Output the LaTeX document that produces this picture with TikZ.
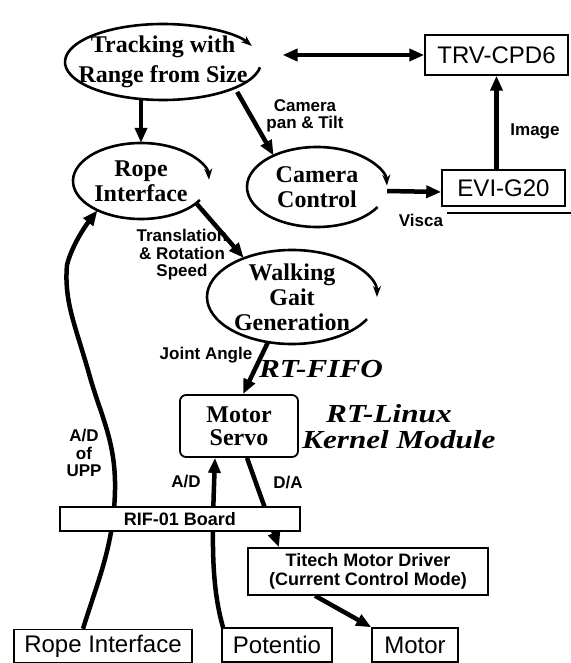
\documentclass[tikz,border=0pt]{standalone}
\usepackage{fontspec}
\setmainfont{Liberation Serif}
\setsansfont{Liberation Sans}
\newfontfamily\rtfont[FakeStretch=1.2]{Liberation Serif}
\usepackage{tikz}
\usetikzlibrary{shapes.geometric, arrows.meta}

\begin{document}
\begin{tikzpicture}[x=1pt, y=-1pt,
  every node/.style={inner sep=0pt},
  proc/.style={ellipse, align=center, font=\fontsize{24}{25}\selectfont\bfseries},
  dev/.style={draw, line width=1.5pt, font=\fontsize{24}{26}\selectfont\sffamily},
  board/.style={draw, line width=1.5pt, fill=white, align=center, font=\fontsize{18}{19}\selectfont\sffamily\bfseries},
  ann/.style={font=\fontsize{17}{17.5}\selectfont\sffamily\bfseries, align=center},
  rt/.style={font=\rtfont\fontsize{26}{26}\selectfont\bfseries\itshape, align=left},
  cyc/.style={line width=2.6pt, -{Stealth[length=11pt, width=8pt]}},
  flow/.style={line width=4.5pt, -{Triangle[length=15pt, width=12pt]}}
]
\useasboundingbox (0,0) rectangle (570,663);

\node[proc, minimum width=196pt, minimum height=76pt, font=\fontsize{24}{30}\selectfont\bfseries] (trk) at (163,62) {Tracking with\\Range from Size};
\node[proc, minimum width=136pt, minimum height=76pt] (rope) at (141,181) {Rope\\Interface};
\node[proc, minimum width=140pt, minimum height=80pt] (cam) at (317,187) {Camera\\Control};
\node[proc, minimum width=170pt, minimum height=94pt] (walk) at (292,297) {Walking\\Gait\\Generation};
\node[draw, rounded corners=6pt, line width=1.8pt, minimum width=118pt, minimum height=62pt, align=center,
      font=\fontsize{24}{23}\selectfont\bfseries] (servo) at (239,426) {Motor\\Servo};

\node[dev, minimum width=143pt, minimum height=40pt] (trv) at (496.5,55) {TRV-CPD6};
\node[dev, minimum width=123pt, minimum height=36pt] (evi) at (503.5,188) {EVI-G20};
\node[dev, minimum width=178pt, minimum height=33pt] (ropebox) at (103,646) {Rope Interface};
\node[dev, minimum width=110pt, minimum height=34pt] (potbox) at (277,645) {Potentio};
\node[dev, minimum width=86pt, minimum height=34pt] (motbox) at (415,645) {Motor};
\node[board, minimum width=240pt, minimum height=47pt] (drv) at (368,571.5) {Titech Motor Driver\\(Current Control Mode)};
\draw[line width=1.5pt] ([shift={(6pt,-6pt)}]evi.south west) -| ([shift={(6pt,-6pt)}]evi.north east);

\foreach \n/\rx/\ry/\a/\b in {trk/98pt/38pt/-8/-335, rope/68pt/38pt/-30/-358,
                              cam/70pt/40pt/-30/-358, walk/85pt/47pt/-28/-360}
  \draw[cyc] (\n.center) ++(\a:{\rx} and {\ry}) arc[start angle=\a, end angle=\b, x radius=\rx, y radius=\ry];

\node[ann] (lpan) at (305,116) {Camera\\pan \& Tilt};
\node[ann] (lvis) at (421,220) {Visca};
\node[ann] (limg) at (535,131) {Image};
\node[ann] (lspd) at (182,255) {Translation\\\& Rotation\\Speed};
\node[ann] (ljnt) at (206,355) {Joint Angle};
\node[ann] (lupp) at (84,453) {A/D\\of\\UPP};
\node[ann] (lad) at (186,482) {A/D};
\node[ann] (lda) at (288,483) {D/A};
\node[rt] (fifo) at (321,369) {RT-FIFO};
\node[rt, anchor=west] (kern) at (302,427) {\hspace*{24pt}RT-Linux\\Kernel Module};

\draw[flow, {Triangle[length=15pt, width=12pt]}-{Triangle[length=15pt, width=12pt]}, line width=4pt]
  (trk.east |- trv.west) -- (trv.west);
\draw[flow] (trk.south -| rope.north) -- (rope.north);
\draw[flow] (trk.-22) -- (cam.144);
\draw[flow] ([yshift=-4pt]cam.east) -- ([yshift=-4pt]evi.west);
\draw[flow] (trv.south |- evi.north) -- (trv.south);
\draw[flow] (rope.-22) -- (walk.141);
\draw[flow] (walk.-118) -- ([xshift=4pt]servo.north);
\draw[flow] ([xshift=8pt]servo.south) -- ([xshift=-89pt]drv.north);
\draw[flow] ([xshift=-53pt]drv.south) -- (motbox.north west);
\draw[flow] ([xshift=-54pt]potbox.north) .. controls (211,585) and (212,540) .. ([xshift=-24pt]servo.south);
\draw[flow] ([xshift=-20pt]ropebox.north) .. controls (98,580) and (114,545) .. (115,490)
  .. controls (116,440) and (100,415) .. (88,370) .. controls (74,322) and (64,300) .. (67,265)
  .. controls (72,245) and (86,225) .. (rope.-146);

\node[board, minimum width=240pt, minimum height=24pt] (rif) at (180,519) {RIF-01 Board};
\end{tikzpicture}
\end{document}
